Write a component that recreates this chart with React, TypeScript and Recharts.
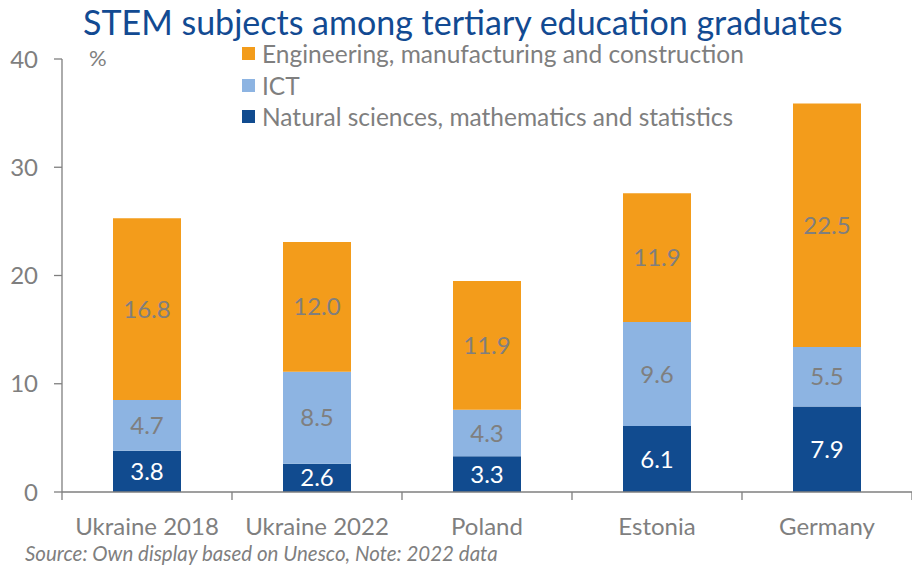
import React from 'react';
import { BarChart, Bar, XAxis, YAxis, LabelList } from 'recharts';

const countries = ['Ukraine 2018', 'Ukraine 2022', 'Poland', 'Estonia', 'Germany'];
const naturalSciences = [3.8, 2.6, 3.3, 6.1, 7.9];
const ict = [4.7, 8.5, 4.3, 9.6, 5.5];
const engineering = [16.8, 12.0, 11.9, 11.9, 22.5];
const yTicks = [0, 10, 20, 30, 40];

const DARK_BLUE = '#114b8f';
const LIGHT_BLUE = '#8db4e2';
const ORANGE = '#f39c1b';
const GREY = '#7f7f7f';
const FONT = 'Lato, "Noto Sans", sans-serif';

const W = 912;
const H = 565;
const LEFT = 62;
const BAND = (W - LEFT) / countries.length;

const data = countries.map((name, i) => ({
  name,
  nat: naturalSciences[i],
  ict: ict[i],
  eng: engineering[i],
}));

const legendItems = [
  { label: 'Engineering, manufacturing and construction', color: ORANGE },
  { label: 'ICT', color: LIGHT_BLUE },
  { label: 'Natural sciences, mathematics and statistics', color: DARK_BLUE },
];

function LegendBox() {
  return (
    <div style={{ position: 'absolute', left: 242, top: 38, fontFamily: FONT }}>
      {legendItems.map((it) => (
        <div key={it.label} style={{ display: 'flex', alignItems: 'center', height: 31.5 }}>
          <span style={{ width: 13, height: 13, background: it.color, marginRight: 7 }} />
          <span style={{ fontSize: 24.5, color: GREY, whiteSpace: 'nowrap' }}>{it.label}</span>
        </div>
      ))}
    </div>
  );
}

function CategoryTick(props: any) {
  const { x, y, payload, index } = props;
  const left = x - BAND / 2;
  return (
    <g>
      <line x1={left} y1={y - 8} x2={left} y2={y} stroke={GREY} strokeWidth={1.3} />
      {index === countries.length - 1 && (
        <line x1={left + BAND} y1={y - 8} x2={left + BAND} y2={y} stroke={GREY} strokeWidth={1.3} />
      )}
      <text x={x} y={y + 35} textAnchor="middle" fill={GREY} fontSize={24} fontFamily={FONT}>
        {payload.value}
      </text>
    </g>
  );
}

const fmt = (v: any) => Number(v).toFixed(1);

export default function App() {
  return (
    <div style={{ position: 'absolute', left: 0, top: 0, width: W, height: H, background: '#fff', overflow: 'hidden' }}>
      <BarChart
        width={W}
        height={H}
        data={data}
        margin={{ top: 59, right: 0, bottom: 33, left: 0 }}
        barSize={68}
      >
        <XAxis
          dataKey="name"
          height={40}
          axisLine={{ stroke: GREY, strokeWidth: 1.3 }}
          tickLine={false}
          tick={<CategoryTick />}
          interval={0}
        />
        <YAxis
          width={LEFT}
          domain={[0, 40]}
          ticks={yTicks}
          axisLine={{ stroke: GREY, strokeWidth: 1.3 }}
          tickLine={{ stroke: GREY, strokeWidth: 1.3 }}
          tickSize={8}
          tickMargin={16}
          tick={{ fill: GREY, fontSize: 24, fontFamily: FONT }}
        />
        <Bar dataKey="nat" stackId="a" fill={DARK_BLUE} isAnimationActive={false}>
          <LabelList dataKey="nat" position="center" fill="#fff" fontSize={24} fontFamily={FONT} formatter={fmt} />
        </Bar>
        <Bar dataKey="ict" stackId="a" fill={LIGHT_BLUE} isAnimationActive={false}>
          <LabelList dataKey="ict" position="center" fill={GREY} fontSize={24} fontFamily={FONT} formatter={fmt} />
        </Bar>
        <Bar dataKey="eng" stackId="a" fill={ORANGE} isAnimationActive={false}>
          <LabelList dataKey="eng" position="center" fill={GREY} fontSize={24} fontFamily={FONT} formatter={fmt} />
        </Bar>
      </BarChart>
      <div
        style={{
          position: 'absolute',
          left: 83,
          top: 1,
          fontFamily: FONT,
          fontSize: 34,
          color: '#124a92',
          whiteSpace: 'nowrap',
        }}
      >
        STEM subjects among tertiary education graduates
      </div>
      <div style={{ position: 'absolute', left: 89, top: 44, fontFamily: FONT, fontSize: 22, color: GREY }}>%</div>
      <LegendBox />
      <div
        style={{
          position: 'absolute',
          left: 25,
          top: 541,
          fontFamily: FONT,
          fontSize: 20.5,
          fontStyle: 'italic',
          color: GREY,
          whiteSpace: 'nowrap',
        }}
      >
        Source: Own display based on Unesco, Note: 2022 data
      </div>
    </div>
  );
}
